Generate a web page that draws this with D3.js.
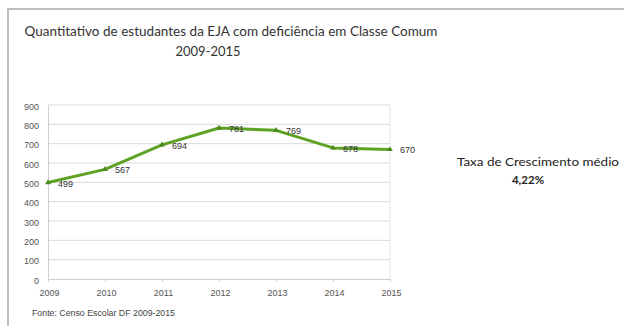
<!DOCTYPE html>
<html>
<head>
<meta charset="utf-8">
<script src="https://cdn.jsdelivr.net/npm/d3@7"></script>
<style>
  html, body { margin: 0; padding: 0; background: #fff; }
  svg { display: block; }
</style>
</head>
<body>
<svg id="chart" width="624" height="326"></svg>
<script>
// Students of EJA with disabilities in regular classes, 2009-2015
const years = ["2009", "2010", "2011", "2012", "2013", "2014", "2015"];
const students = [499, 567, 694, 781, 769, 678, 670];
const yTicks = [0, 100, 200, 300, 400, 500, 600, 700, 800, 900];
const titleLines = ["Quantitativo de estudantes da EJA com deficiência em Classe Comum", "2009-2015"];
const sourceText = "Fonte: Censo Escolar DF 2009-2015";
const growthLines = ["Taxa de Crescimento médio", "4,22%"];

const svg = d3.select("#chart");
const W = 624, H = 326;
const axisFont = "Liberation Sans, Arial, sans-serif";
const textFont = "Lato, Open Sans, sans-serif";

// outer frame
svg.append("line").attr("x1", 7).attr("x2", W).attr("y1", 9).attr("y2", 9)
  .attr("stroke", "#bdbdbd").attr("stroke-width", 2);
svg.append("line").attr("x1", 8).attr("x2", 8).attr("y1", 9).attr("y2", H)
  .attr("stroke", "#bdbdbd").attr("stroke-width", 2);

const x = d3.scalePoint().domain(years).range([48, 390]);
const y = d3.scaleLinear().domain([0, 900]).range([279, 105]);

// gridlines
svg.append("g")
  .selectAll("line").data(yTicks.slice(1)).join("line")
  .attr("x1", 48).attr("x2", 390)
  .attr("y1", d => y(d)).attr("y2", d => y(d))
  .attr("stroke", "#d9d9d9").attr("stroke-width", 1);
svg.append("line").attr("x1", 390).attr("x2", 390).attr("y1", y(900)).attr("y2", y(0))
  .attr("stroke", "#e3e3e3");

// y axis
const yAxis = svg.append("g").attr("transform", "translate(48,0)")
  .call(d3.axisLeft(y).tickValues(yTicks).tickSize(0).tickPadding(9));
yAxis.select(".domain").attr("stroke", "#d0d0d0");
yAxis.selectAll("text").attr("font-family", axisFont)
  .attr("font-size", 9).attr("fill", "#555").attr("dy", "0.45em");

// x axis
const xAxis = svg.append("g").attr("transform", `translate(0,${y(0)})`)
  .call(d3.axisBottom(x).tickSize(3).tickPadding(8));
xAxis.select(".domain").attr("stroke", "#d0d0d0");
xAxis.selectAll("line").attr("stroke", "#d0d0d0");
xAxis.selectAll("text").attr("font-family", axisFont)
  .attr("font-size", 9).attr("fill", "#555").attr("dx", 1);

// series line
const data = years.map((yr, i) => ({ yr, v: students[i] }));
svg.append("path").datum(data)
  .attr("fill", "none").attr("stroke", "#5ea225").attr("stroke-width", 3)
  .attr("stroke-linejoin", "round")
  .attr("d", d3.line().x(d => x(d.yr)).y(d => y(d.v)));
svg.append("g").selectAll("path").data(data).join("path")
  .attr("transform", d => `translate(${x(d.yr)},${y(d.v)})`)
  .attr("d", d3.symbol(d3.symbolTriangle, 14))
  .attr("fill", "#4a8a1c");

// value labels
svg.append("g").selectAll("text").data(data).join("text")
  .attr("x", d => x(d.yr) + 10).attr("y", d => y(d.v) + 4)
  .attr("font-family", axisFont)
  .attr("font-size", 9).attr("fill", "#333")
  .text(d => d.v);

// title
svg.append("text").attr("x", 231).attr("y", 36)
  .attr("text-anchor", "middle")
  .attr("font-family", textFont).attr("font-size", 13)
  .attr("fill", "#333").attr("textLength", 413).attr("lengthAdjust", "spacingAndGlyphs")
  .text(titleLines[0]);
svg.append("text").attr("x", 208).attr("y", 56)
  .attr("text-anchor", "middle")
  .attr("font-family", textFont).attr("font-size", 13)
  .attr("fill", "#333")
  .text(titleLines[1]);

// source
svg.append("text").attr("x", 32).attr("y", 316)
  .attr("font-family", "Liberation Sans Narrow, Liberation Sans, sans-serif")
  .attr("font-size", 8.5).attr("fill", "#444")
  .attr("textLength", 143).attr("lengthAdjust", "spacingAndGlyphs")
  .text(sourceText);

// growth rate annotation
svg.append("text").attr("x", 538).attr("y", 166)
  .attr("text-anchor", "middle")
  .attr("font-family", textFont).attr("font-size", 11.5)
  .attr("fill", "#222").attr("textLength", 162).attr("lengthAdjust", "spacingAndGlyphs")
  .text(growthLines[0]);
svg.append("text").attr("x", 528).attr("y", 184)
  .attr("text-anchor", "middle")
  .attr("font-family", textFont).attr("font-size", 11.5).attr("font-weight", 700)
  .attr("fill", "#222")
  .text(growthLines[1]);
</script>
</body>
</html>
